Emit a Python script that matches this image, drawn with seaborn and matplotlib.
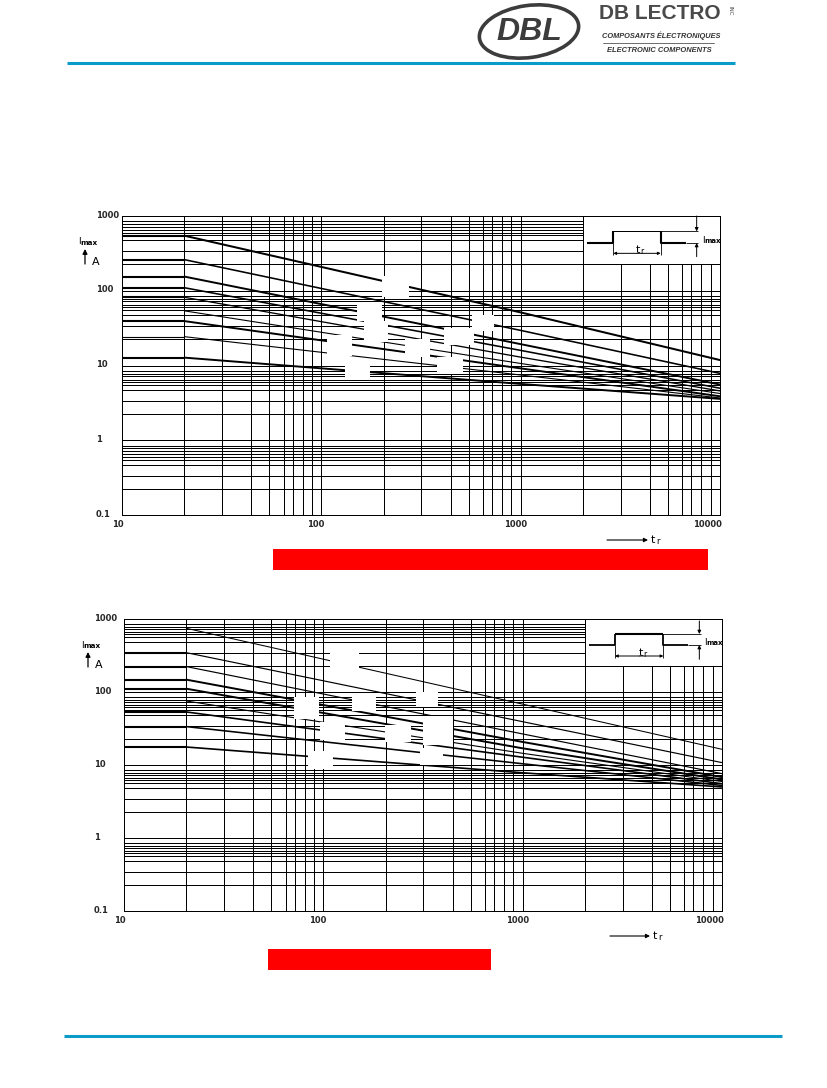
# -*- coding: utf-8 -*-
"""
Peak current vs pulse width curves, two log-log charts on a datasheet page
"""

import matplotlib
matplotlib.use('Agg')
import matplotlib.pyplot as plt
from matplotlib.patches import Ellipse, Rectangle
from matplotlib.transforms import ScaledTranslation
import pandas as pd
import seaborn as sns

# Curve break points (pulse width, us)
pulse_t = [10, 20.5, 1000, 10000]

# Upper chart, peak current in A at each break point (None = no flat part)
top_curves = [
    [546, 546, 51.5, 11.9],
    [261, 261, 29.6, 7.9],
    [155, 155, 19.4, 5.6],
    [110, 110, 16.0, 5.0],
    [82, 82, 13.0, 4.6],
    [None, 54, 10.7, 4.25],
    [39.4, 39.4, 9.2, 3.9],
    [24.4, 24.4, 7.5, 3.7],
    [12.8, 12.8, 5.7, 3.6],
]
top_widths = [1.45, 1.15, 1.4, 1.15, 0.95, 0.8, 1.4, 0.8, 1.4]
top_flat_widths = [1.5, 1.5, 1.5, 1.5, 1.5, 0.8, 1.5, 0.8, 1.5]

# Lower chart
low_curves = [
    [None, 753, 68.9, 16.6],
    [349, 349, 39.6, 10.9],
    [225, 225, 26.9, 7.7],
    [149, 149, 20.9, 6.9],
    [112, 112, 17.1, 6.4],
    [None, 76, 14.6, 6.0],
    [53.8, 53.8, 12.9, 5.6],
    [33.9, 33.9, 10.5, 5.3],
    [17.8, 17.8, 7.9, 5.05],
]
low_widths = [0.75, 0.85, 0.85, 1.4, 1.4, 0.8, 1.2, 1.15, 1.2]
low_flat_widths = [0.8, 1.5, 1.5, 1.5, 1.5, 0.8, 1.5, 1.5, 1.5]

# Paper grid, multiples inside one decade as printed on the drawing
x_multiples = [1, 2.05, 3.18, 4.45, 5.48, 6.5, 7.2, 8.1, 9.0]
top_y_multiples = [1, 0.849, 0.782, 0.721, 0.65, 0.6, 0.552, 0.474, 0.338, 0.227]
low_y_multiples = [1, 0.863, 0.794, 0.738, 0.678, 0.623, 0.579, 0.49, 0.346, 0.227]
x_decades = [10, 100, 1000]
y_decades = [1000, 100, 10, 1]

x_tick_values = [10, 100, 1000, 10000]
x_tick_labels = ['10', '100', '1000', '10000']
y_tick_values = [1000, 100, 10, 1, 0.1]
y_tick_labels = ['1000', '100', '10', '1', '0.1']

W, H = 828, 1088
LW = 0.72


def px(x, y):
    return x / W, 1 - y / H


def page_line(fig, xs, ys, lw=LW, color='black'):
    fx = [x / W for x in xs]
    fy = [1 - y / H for y in ys]
    fig.add_artist(plt.Line2D(fx, fy, lw=lw, color=color, solid_capstyle='butt'))


def page_arrow(fig, start, end, lw=0.7, scale=6):
    fig.add_artist(matplotlib.patches.FancyArrowPatch(
        px(*start), px(*end), transform=fig.transFigure, arrowstyle='-|>',
        mutation_scale=scale, lw=lw, color='black', shrinkA=0, shrinkB=0))


def page_text(fig, x, y, s, **kw):
    kw.setdefault('fontsize', 6)
    kw.setdefault('fontweight', 'normal')
    kw.setdefault('va', 'center')
    kw.setdefault('color', 'black')
    fig.text(x / W, 1 - y / H, s, **kw)


def curve_frame(curves):
    rows = []
    for i, curve in enumerate(curves):
        for t, val in zip(pulse_t, curve):
            if val is not None:
                rows.append({'curve': i, 't': t, 'imax': val})
    return pd.DataFrame(rows)


def draw_curves(ax, df, widths, n):
    sns.lineplot(data=df, x='t', y='imax', hue='curve', size='curve',
                 palette={i: 'black' for i in range(n)},
                 sizes=dict(enumerate(widths)),
                 estimator=None, sort=False, legend=False, ax=ax, zorder=2)


def draw_chart(fig, box, curves, widths, flat_widths, y_multiples, x_shift, y_shift):
    left, top, right, bottom = box
    ax = fig.add_axes([left / W, 1 - bottom / H, (right - left) / W, (bottom - top) / H])
    ax.set_xscale('log')
    ax.set_yscale('log')

    # The inset corner stays free of grid lines
    corner_x = 1000 * x_multiples[1]
    corner_y = 1000 * y_multiples[-1]
    for dec in x_decades:
        for m in x_multiples:
            xv = dec * m
            ax.vlines(xv, 0.1, corner_y if xv > corner_x else 1000, color='black', lw=LW, zorder=1)
    for dec in y_decades:
        for m in y_multiples:
            yv = dec * m
            ax.hlines(yv, 10, corner_x if yv > corner_y else 10000, color='black', lw=LW, zorder=1)

    # Sloped part and flat part have their own pen widths
    df = curve_frame(curves)
    draw_curves(ax, df[df['t'] >= pulse_t[1]], widths, len(curves))
    draw_curves(ax, df[df['t'] <= pulse_t[1]], flat_widths, len(curves))

    ax.set_xlim(10, 10000)
    ax.set_ylim(0.1, 1000)
    ax.set_xlabel('')
    ax.set_ylabel('')
    ax.minorticks_off()
    ax.set_xticks(x_tick_values)
    ax.set_xticklabels(x_tick_labels, fontsize=6, fontweight='bold')
    ax.set_yticks(y_tick_values)
    ax.set_yticklabels(y_tick_labels, fontsize=6, fontweight='bold')
    ax.tick_params(axis='both', which='both', length=0)
    ax.tick_params(axis='x', pad=3.5)
    ax.tick_params(axis='y', pad=(left - 96 - x_shift) * 0.72)
    for lab, dx in zip(ax.get_xticklabels(), [-4, -6, -5, -12]):
        lab.set_transform(lab.get_transform() + ScaledTranslation(dx / 100, 0, fig.dpi_scale_trans))
    for lab in ax.get_yticklabels():
        lab.set_ha('left')
        lab.set_transform(lab.get_transform() + ScaledTranslation(0, y_shift / 100, fig.dpi_scale_trans))
    for s in ax.spines.values():
        s.set_visible(True)
        s.set_linewidth(LW)
        s.set_color('black')
    return ax


def white_masks(fig, masks):
    # Blanked out label spots on the drawing
    for x0, y0, x1, y1 in masks:
        fig.add_artist(Rectangle(px(x0, y1), (x1 - x0) / W, (y1 - y0) / H,
                                 transform=fig.transFigure, fc='white', ec='none', zorder=5))


def inset(fig, ox, oy, base_lw, top_lw, top_y, base_y, xa, xb, xc, xd, ax_x, text_y, bot_end):
    X = lambda v: ox + v / 3
    Y = lambda v: oy + v / 3
    page_line(fig, [X(xa), X(xb), X(xb)], [Y(base_y), Y(base_y), Y(top_y)], lw=base_lw)
    page_line(fig, [X(xd), X(xc), X(xc)], [Y(base_y), Y(base_y), Y(top_y)], lw=base_lw)
    page_line(fig, [X(xb), X(xc)], [Y(top_y), Y(top_y)], lw=top_lw)
    for xv in (xb, xc):
        page_line(fig, [X(xv), X(xv)], [Y(base_y), Y(bot_end)], lw=0.6)
    page_arrow(fig, (X((xb + xc) / 2), Y(bot_end - 5)), (X(xb), Y(bot_end - 5)), scale=4)
    page_arrow(fig, (X((xb + xc) / 2), Y(bot_end - 5)), (X(xc), Y(bot_end - 5)), scale=4)
    page_text(fig, X((xb + xc) / 2 + 4), Y(bot_end - 14), 't', ha='center', fontsize=8)
    page_text(fig, X((xb + xc) / 2 + 16), Y(bot_end - 10), 'r', ha='center', fontsize=5.5)
    page_line(fig, [X(xc), X(ax_x + 5)], [Y(top_y), Y(top_y)], lw=0.6)
    page_line(fig, [X(xd), X(ax_x + 5)], [Y(base_y), Y(base_y)], lw=0.6)
    page_arrow(fig, (X(ax_x), Y(48)), (X(ax_x), Y(top_y)), scale=5)
    page_arrow(fig, (X(ax_x), Y(bot_end + 5)), (X(ax_x), Y(base_y)), scale=5)
    page_text(fig, X(ax_x + 15), Y(text_y), 'I', fontsize=6.5)
    page_text(fig, X(ax_x + 22), Y(text_y + 1), 'max', fontsize=5.0, fontweight='bold')


def axis_marks(fig, x, y):
    # I max, upward arrow and A on the left of each chart
    page_text(fig, x, y, 'I', fontsize=6.5)
    page_text(fig, x + 2.5, y + 1, 'max', fontsize=5.2, fontweight='bold')
    page_arrow(fig, (x + 7, y + 22), (x + 7, y + 7), lw=0.9, scale=7)
    page_text(fig, x + 14, y + 20, 'A', fontsize=8)


def t_mark(fig, x0, x1, y):
    page_arrow(fig, (x0, y), (x1, y), lw=0.8, scale=6)
    page_text(fig, x1 + 3, y, 't', fontsize=8)
    page_text(fig, x1 + 8, y + 1.5, 'r', fontsize=6)


def logo(fig):
    grey = '#3c3c3c'
    ax = fig.add_axes([0, 0, 1, 1], zorder=10)
    ax.set_xlim(0, W)
    ax.set_ylim(H, 0)
    ax.axis('off')
    ax.add_patch(Ellipse((529, 31.5), 100, 52, angle=-8, fc='none', ec=grey, lw=2.6))
    ax.text(529, 32, 'DBL', fontsize=23, fontweight='bold', fontstyle='italic',
            family='Liberation Sans', color=grey, ha='center', va='center')
    ax.text(660, 13.5, 'DB LECTRO', fontsize=15, fontweight='bold', family='Liberation Sans',
            color='#4a4a4a', ha='center', va='center')
    ax.text(730, 11, 'INC', fontsize=4, rotation=-90, color='#4a4a4a', ha='center', va='center')
    ax.text(661, 35.5, 'COMPOSANTS ÉLECTRONIQUES', fontsize=5.3, fontweight='bold', fontstyle='italic',
            family='Liberation Sans', color='#333333', ha='center', va='center')
    ax.plot([603, 714], [42.5, 42.5], color='#555555', lw=0.6)
    ax.text(659, 51, 'ELECTRONIC COMPONENTS', fontsize=5.4, fontweight='bold', fontstyle='italic',
            family='Liberation Sans', color='#333333', ha='center', va='center')


def main():
    sns.set_style('white')
    plt.rcParams['font.family'] = ['DejaVu Sans']

    fig = plt.figure(figsize=(W / 100, H / 100), dpi=100)

    draw_chart(fig, (122.3, 216, 719.7, 515.3), top_curves, top_widths, top_flat_widths, top_y_multiples, 0, 2)
    draw_chart(fig, (124.3, 619.3, 721.7, 911.3), low_curves, low_widths, low_flat_widths, low_y_multiples, -2, 2)

    white_masks(fig, [
        (381.7, 276, 409.3, 297), (357, 301.7, 381.7, 320.7), (364, 320.7, 388.3, 342.3),
        (326.7, 335, 352, 355.7), (345, 363.3, 370, 380), (405, 339.3, 430, 356.7),
        (471.7, 315, 494, 331), (444, 328.3, 474, 345), (437.3, 356.7, 462.7, 374),
        (330, 643.3, 359.3, 668.3), (294.3, 696.7, 319.3, 719), (352, 696.7, 376, 711),
        (320, 721.7, 345, 740), (307.7, 751, 333.3, 769), (385, 725, 411.3, 741.7),
        (416, 691.7, 437.7, 706.7), (422.7, 716, 452.7, 745), (420, 748, 442.7, 765),
    ])

    inset(fig, 420, 200, 1.5, 0.72, 94, 129, 500, 580, 722, 797, 830, 122, 165)
    inset(fig, 420, 605, 1.3, 1.5, 87, 120, 507, 585, 730, 803, 838, 113, 158)

    axis_marks(fig, 78, 242)
    axis_marks(fig, 81, 645)
    t_mark(fig, 607, 648, 540)
    t_mark(fig, 610, 650, 936)

    # Red bars and teal page rules
    for x0, y0, x1, y1 in [(273, 549, 708, 570), (268, 949, 491, 970)]:
        fig.add_artist(Rectangle(px(x0, y1), (x1 - x0) / W, (y1 - y0) / H,
                                 transform=fig.transFigure, fc='#ff0000', ec='none'))
    page_line(fig, [67, 735], [63, 63], lw=2.2, color='#0a9bc8')
    page_line(fig, [64, 782], [1036, 1036], lw=2.2, color='#0a9bc8')

    logo(fig)
    fig.savefig('out.png', dpi=100)


if __name__ == "__main__":
    main()
